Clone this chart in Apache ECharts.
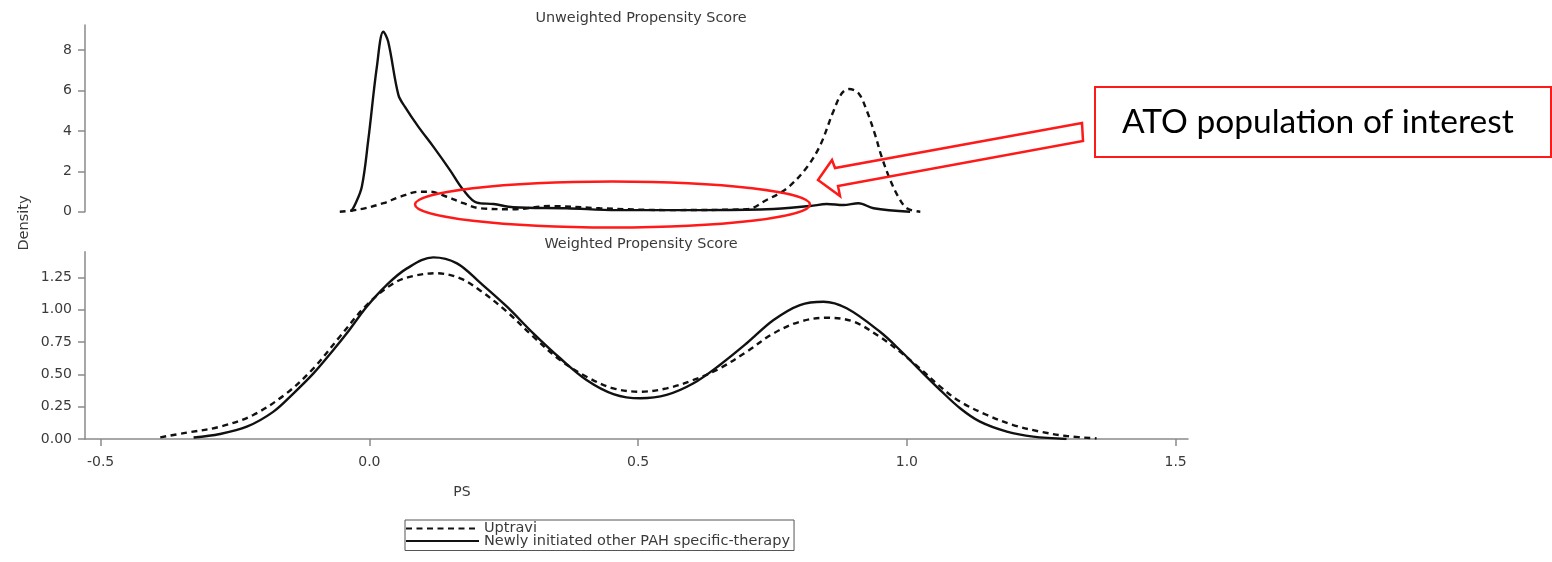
<!DOCTYPE html>
<html>
<head>
<meta charset="utf-8">
<title>Propensity score density</title>
<script src="https://cdn.jsdelivr.net/npm/echarts@6/dist/echarts.min.js"></script>
<style>
  html, body { margin: 0; padding: 0; background: #fff; }
  #main { width: 1552px; height: 562px; }
</style>
</head>
<body>
<div id="main"></div>
<script>
// tick labels
const psTicks = [-0.5, 0, 0.5, 1, 1.5];
const unweightedTicks = [0, 2, 4, 6, 8];
const weightedTicks = [0, 0.25, 0.5, 0.75, 1, 1.25];
const seriesNames = ["Uptravi", "Newly initiated other PAH specific-therapy"];

// [PS, density] (unweighted)
const unweightedUptravi = [
  [-0.055, 0], [-0.017, 0.12], [0.026, 0.42], [0.057, 0.74], [0.094, 0.99], [0.113, 0.99],
  [0.144, 0.74], [0.175, 0.42], [0.206, 0.17], [0.268, 0.12], [0.336, 0.28], [0.429, 0.17],
  [0.553, 0.08], [0.702, 0.12], [0.739, 0.58], [0.777, 1.16], [0.814, 2.2], [0.839, 3.3],
  [0.863, 4.95], [0.879, 5.86], [0.892, 6.07], [0.91, 5.86], [0.925, 5.03], [0.941, 3.8],
  [0.953, 2.72], [0.969, 1.57], [0.984, 0.74], [1.0, 0.17], [1.025, 0]
];
const unweightedOther = [
  [-0.034, 0], [-0.027, 0.33], [-0.014, 1.24], [-0.002, 3.55], [0.014, 7.18], [0.026, 8.91],
  [0.035, 8.42], [0.054, 5.78], [0.066, 5.2], [0.091, 4.21], [0.119, 3.22], [0.15, 2.06],
  [0.175, 1.07], [0.2, 0.45], [0.231, 0.38], [0.268, 0.22], [0.367, 0.17], [0.46, 0.08],
  [0.615, 0.08], [0.739, 0.12], [0.82, 0.28], [0.851, 0.38], [0.882, 0.33], [0.91, 0.42],
  [0.938, 0.17], [1.006, 0]
];

// [PS, density] (weighted)
const weightedUptravi = [
  [-0.389, 0.013], [-0.34, 0.049], [-0.278, 0.095], [-0.216, 0.186], [-0.154, 0.354],
  [-0.104, 0.547], [-0.055, 0.792], [-0.005, 1.037], [0.045, 1.205], [0.082, 1.262],
  [0.125, 1.283], [0.169, 1.244], [0.206, 1.15], [0.256, 0.985], [0.305, 0.792],
  [0.355, 0.611], [0.404, 0.482], [0.454, 0.392], [0.504, 0.366], [0.553, 0.392],
  [0.603, 0.457], [0.652, 0.547], [0.702, 0.676], [0.752, 0.818], [0.801, 0.908],
  [0.851, 0.939], [0.901, 0.908], [0.95, 0.79], [0.987, 0.676], [1.024, 0.547],
  [1.062, 0.405], [1.099, 0.289], [1.149, 0.186], [1.198, 0.108], [1.248, 0.057],
  [1.297, 0.023], [1.353, 0.005]
];
const weightedOther = [
  [-0.327, 0.012], [-0.278, 0.039], [-0.228, 0.095], [-0.179, 0.21], [-0.141, 0.354],
  [-0.104, 0.508], [-0.067, 0.689], [-0.042, 0.818], [-0.005, 1.024], [0.032, 1.192],
  [0.07, 1.321], [0.119, 1.406], [0.163, 1.36], [0.206, 1.21], [0.256, 1.024],
  [0.305, 0.818], [0.355, 0.625], [0.404, 0.457], [0.454, 0.348], [0.504, 0.315],
  [0.553, 0.341], [0.603, 0.431], [0.652, 0.573], [0.702, 0.741], [0.752, 0.921],
  [0.801, 1.037], [0.845, 1.063], [0.888, 1.012], [0.95, 0.83], [0.987, 0.689],
  [1.024, 0.534], [1.062, 0.379], [1.099, 0.238], [1.136, 0.134], [1.186, 0.057],
  [1.235, 0.018], [1.297, 0]
];

const chart = echarts.init(document.getElementById("main"));
const font = "DejaVu Sans";
const axisGrey = "#8a8a8a";
const textGrey = "#3a3a3a";
const red = "#ff1a1a";

// same look for both y axes
function densityAxis(gridIndex, max, ticks, digits) {
  return {
    type: "value",
    gridIndex: gridIndex,
    min: 0,
    max: max,
    axisLine: { show: true, onZero: false, lineStyle: { color: axisGrey, width: 1.5 } },
    axisTick: { show: true, customValues: ticks, length: 7, lineStyle: { color: axisGrey, width: 1.5 } },
    axisLabel: {
      customValues: ticks,
      margin: 13,
      color: textGrey,
      fontSize: 14,
      fontFamily: font,
      formatter: (v) => v.toFixed(digits),
    },
    splitLine: { show: false },
  };
}

function curve(name, data, axis, dashed) {
  return {
    name: name,
    type: "line",
    xAxisIndex: axis,
    yAxisIndex: axis,
    data: data,
    symbol: "none",
    smooth: 0.35,
    silent: true,
    lineStyle: { color: "#111", width: 2.4, type: dashed ? [6, 4.5] : "solid" },
    itemStyle: { color: "#111" },
  };
}

const option = {
  animation: false,
  textStyle: { fontFamily: font },
  title: [
    { text: "Unweighted Propensity Score", left: 636, top: 6, textAlign: "center",
      textStyle: { fontSize: 14.4, fontWeight: "normal", color: textGrey, fontFamily: font } },
    { text: "Weighted Propensity Score", left: 636, top: 232, textAlign: "center",
      textStyle: { fontSize: 14.4, fontWeight: "normal", color: textGrey, fontFamily: font } },
  ],
  legend: {
    data: seriesNames,
    orient: "vertical",
    left: 405,
    top: 520,
    itemWidth: 73,
    itemHeight: 10,
    itemGap: -2.5,
    padding: [1, 4, 2, 0],
    borderColor: "#555",
    borderWidth: 1,
    itemStyle: { opacity: 0 },
    textStyle: { fontSize: 14.5, color: textGrey, fontFamily: font, lineHeight: 12.5 },
  },
  grid: [
    { left: 85, top: 25, width: 1103, height: 186.7 },
    { left: 85, top: 251.7, width: 1103, height: 187.3 },
  ],
  xAxis: [
    { type: "value", gridIndex: 0, min: -0.529, max: 1.523, show: false },
    {
      type: "value",
      gridIndex: 1,
      min: -0.529,
      max: 1.523,
      axisLine: { show: true, onZero: false, lineStyle: { color: axisGrey, width: 1.5 } },
      axisTick: { show: true, customValues: psTicks, length: 7, lineStyle: { color: axisGrey, width: 1.5 } },
      axisLabel: {
        customValues: psTicks,
        margin: 16,
        color: textGrey,
        fontSize: 14,
        fontFamily: font,
        formatter: (v) => v.toFixed(1),
      },
      splitLine: { show: false },
    },
  ],
  yAxis: [
    densityAxis(0, 9.24, unweightedTicks, 0),
    densityAxis(1, 1.45, weightedTicks, 2),
  ],
  series: [
    curve(seriesNames[0], unweightedUptravi, 0, true),
    curve(seriesNames[1], unweightedOther, 0, false),
    curve(seriesNames[0], weightedUptravi, 1, true),
    curve(seriesNames[1], weightedOther, 1, false),
  ],
  graphic: [
    { type: "text", x: 24, y: 223, rotation: Math.PI / 2,
      style: { text: "Density", font: "14.5px DejaVu Sans", fill: textGrey, align: "center", verticalAlign: "middle" } },
    { type: "text", x: 462, y: 492,
      style: { text: "PS", font: "14px DejaVu Sans", fill: textGrey, align: "center", verticalAlign: "middle" } },
    // annotation: ellipse, hollow arrow and callout box
    { type: "ellipse", z: 100, shape: { cx: 612.5, cy: 204.5, rx: 197.5, ry: 23 },
      style: { fill: "none", stroke: red, lineWidth: 2.5 } },
    { type: "polygon", z: 100,
      shape: { points: [[818, 180], [832, 160], [835, 168], [1082, 123], [1083, 141], [838, 186], [840, 196]] },
      style: { fill: "none", stroke: red, lineWidth: 2.5 } },
    { type: "rect", z: 100, shape: { x: 1095, y: 87, width: 456, height: 70 },
      style: { fill: "#fff", stroke: red, lineWidth: 2 } },
    { type: "text", z: 101, x: 1122, y: 122,
      style: { text: "ATO population of interest", font: "33.5px Lato", fill: "#000", verticalAlign: "middle" } },
  ],
};

chart.setOption(option);
</script>
</body>
</html>
